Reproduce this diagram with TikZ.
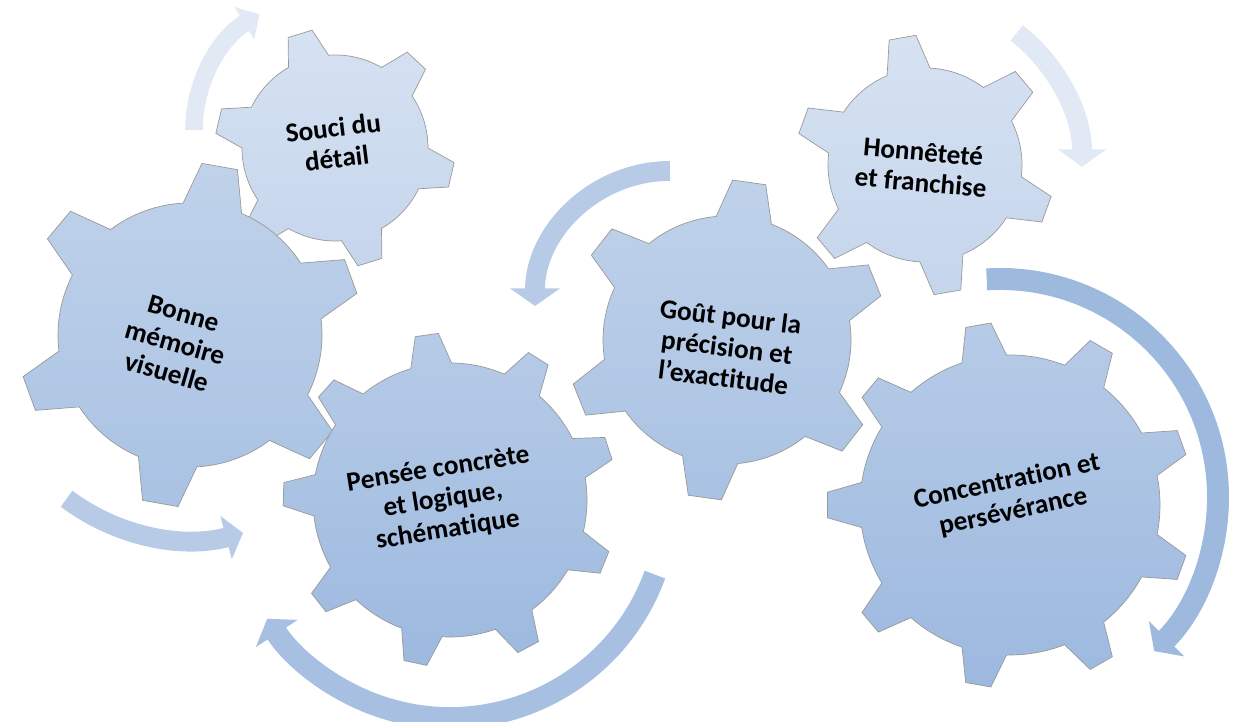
\documentclass[tikz,border=0pt]{standalone}
\usepackage{fontspec}
\setmainfont{Carlito}[Ligatures=NoCommon]
\usepackage{xcolor}
\usepackage{tikz}
\usetikzlibrary{arrows.meta}

\definecolor{palehi}{HTML}{D6E2F2}
\definecolor{palelo}{HTML}{C5D5EC}
\definecolor{midhi}{HTML}{C0D2EA}
\definecolor{midlo}{HTML}{A9C2E3}
\definecolor{deephi}{HTML}{B6CBE7}
\definecolor{deeplo}{HTML}{9DB9DF}
\definecolor{spinfaint}{HTML}{E1E9F4}
\definecolor{spinsoft}{HTML}{B7CBE7}
\definecolor{spinstrong}{HTML}{9DB9DE}

% cog: style, centre, teeth, first tooth angle, inner radius, outer radius
\newcommand{\cog}[6]{%
  \pgfmathsetmacro{\cogstep}{360/#3}
  \pgfmathsetmacro{\cogtip}{36/#3}
  \pgfmathsetmacro{\cogbase}{78/#3}
  \pgfmathtruncatemacro{\coglast}{#3-1}
  \begin{scope}[shift={(#2)}]
    \path[#1] ({#4-\cogbase}:#5)
      \foreach \k in {0,...,\coglast} {
        -- ({#4+\k*\cogstep-\cogtip}:#6)
        -- ({#4+\k*\cogstep+\cogtip}:#6)
        -- ({#4+\k*\cogstep+\cogbase}:#5)
        arc[start angle={#4+\k*\cogstep+\cogbase}, end angle={#4+(\k+1)*\cogstep-\cogbase}, radius=#5]
      } -- cycle;
  \end{scope}}

\begin{document}
\begin{tikzpicture}
    [x=0.02cm,y=0.02cm,
    font=\fontsize{15.5}{17.5}\selectfont\bfseries,
    cog/.style={draw=black!40,line width=0.4pt},
    pale/.style={cog,top color=palehi,bottom color=palelo},
    mid/.style={cog,top color=midhi,bottom color=midlo},
    deep/.style={cog,top color=deephi,bottom color=deeplo},
    caption/.style={align=center,inner sep=0pt},
    spin/.style={line width=11.3pt,-{Triangle[width=27pt,length=10pt]}}]

    \useasboundingbox (0,0) rectangle (1237,722);

    \coordinate (souci) at (335,574);
    \coordinate (bonne) at (190,387);
    \coordinate (pensee) at (450,222);
    \coordinate (gout) at (727,382);
    \coordinate (honnete) at (925,557);
    \coordinate (concentr) at (1010,217);

    \cog{pale}{souci}{6}{107}{93}{120}
    \cog{mid}{bonne}{6}{20}{132}{172}
    \cog{deep}{pensee}{9}{18}{137}{167}
    \cog{mid}{gout}{6}{22}{124}{160}
    \cog{pale}{honnete}{6}{40}{97}{130}
    \cog{deep}{concentr}{9}{20}{150}{183}

    \draw [spin,draw=spinfaint,line width=10pt,-{Triangle[width=21pt,length=10pt]}]
      (souci) ++(-141,18) arc[start angle=180,end angle=121,radius=135];
    \draw [spin,draw=spinfaint] (honnete) ++(91.7,132) arc[start angle=52,end angle=0,radius=170];
    \draw [spin,draw=spinsoft,-{Triangle[width=28pt,length=10pt]}]
      (gout) ++(-57,169) arc[start angle=90,end angle=180,radius=135];
    \draw [spin,draw=spinstrong,line width=12.5pt,-{Triangle[width=28pt,length=10pt]}]
      (concentr) ++(-23.3,225.6) arc[start angle=93.5,end angle=-45,radius=218];
    \draw [spin,draw=spinsoft,-{Triangle[width=25pt,length=10pt]}]
      (bonne) ++(-123.4,-163.7) arc[start angle=-127,end angle=-75,radius=205];
    \draw [spin,draw=spinstrong!90!white,line width=12.5pt,-{Triangle[width=28pt,length=10pt]}]
      (pensee) ++(204.9,-74.6) arc[start angle=-20,end angle=-147,radius=218];

    \node (souci-txt) [caption,rotate=7] at ([shift={(0,5)}]souci) {Souci du\\détail};
    \node (bonne-txt) [caption,rotate=-16] at ([shift={(-15,-8)}]bonne) {Bonne\\mémoire\\visuelle};
    \node (pensee-txt) [caption,rotate=9] at ([shift={(-7,0)}]pensee) {Pensée concrète\\et logique,\\schématique};
    \node (gout-txt) [caption,rotate=-7] at ([shift={(0,-7)}]gout) {Goût pour la\\précision et\\l’exactitude};
    \node (honnete-txt) [caption,rotate=-5] at ([shift={(-3,-2)}]honnete) {Honnêteté\\et franchise};
    \node (concentr-txt) [caption,rotate=12] at ([shift={(0,8)}]concentr) {Concentration et\\persévérance};
\end{tikzpicture}
\end{document}
